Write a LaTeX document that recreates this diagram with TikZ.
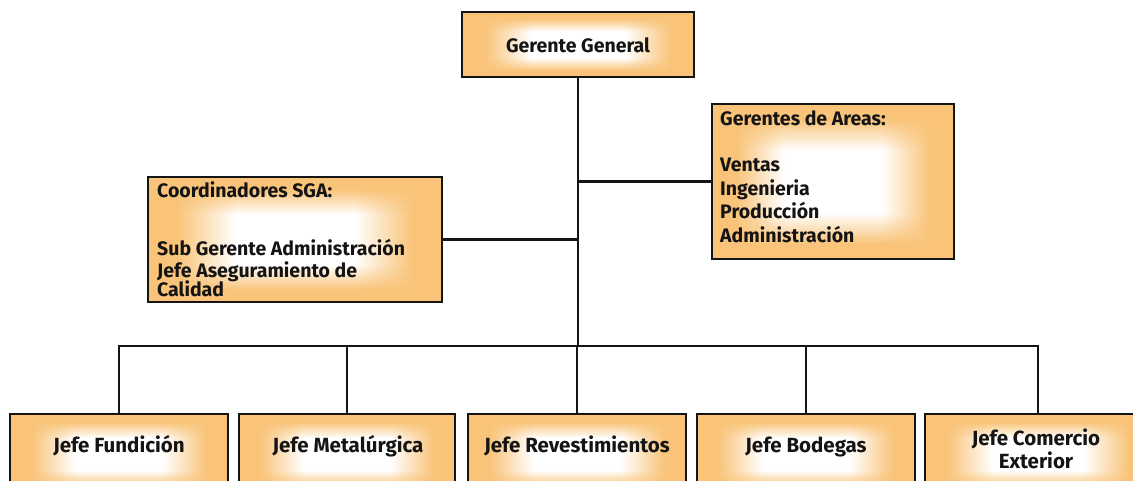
\documentclass[tikz,border=0pt]{standalone}
\usepackage{fontspec}
\setmainfont{Fira Sans}
\usetikzlibrary{positioning}

\definecolor{boxor}{RGB}{249,196,122}
\definecolor{ink}{RGB}{20,20,20}

% soft white glow in the middle of an orange box (the box maps to -25bp..25bp):
% white weight = wx*wy, each falling off linearly from 10bp to 20bp
\pgfdeclarefunctionalshading{glow}{\pgfpoint{-50bp}{-50bp}}{\pgfpoint{50bp}{50bp}}{}{
  abs 10 sub 10 div dup abs add 2 div dup 1 sub abs neg exch 1 add add 2 div
  1 exch sub
  exch
  abs 10 sub 10 div dup abs add 2 div dup 1 sub abs neg exch 1 add add 2 div
  1 exch sub
  mul 1 exch sub
  dup 0.024 mul 1 exch sub exch
  dup 0.231 mul 1 exch sub exch
  0.522 mul 1 exch sub
}

\tikzset{
  orgbox/.style={draw=ink, line width=2.6pt, shading=glow, inner sep=0pt},
  link/.style={draw=ink, line width=2.6pt},
  lbl/.style={inner sep=0pt, text=ink, font=\bfseries\fontsize{19.5}{23}\selectfont},
  lblb/.style={lbl, font=\bfseries\fontsize{20.5}{24}\selectfont},
}

\begin{document}
\begin{tikzpicture}[x=1pt,y=-1pt]
\useasboundingbox (0,0) rectangle (1133,481);

% boxes
\node[orgbox, minimum width=232pt, minimum height=65pt]  (gg)    at (578,44.5)  {};
\node[orgbox, minimum width=294pt, minimum height=125pt] (sga)   at (295,239.5) {};
\node[orgbox, minimum width=242pt, minimum height=155pt] (areas) at (833,181.5) {};
\node[orgbox, minimum width=218pt, minimum height=80pt] (b1) at (119,454) {};
\node[orgbox, minimum width=216pt, minimum height=80pt] (b2) at (347,454) {};
\node[orgbox, minimum width=218pt, minimum height=80pt] (b3) at (577,454) {};
\node[orgbox, minimum width=218pt, minimum height=80pt] (b4) at (806,454) {};
\node[orgbox, minimum width=226pt, minimum height=80pt] (b5) at (1038,454) {};

% connectors
\coordinate (bus) at (578,346);
\draw[link] (gg.south) -- (bus);
\draw[link] (areas.west) -- (areas.west -| gg.south);
\draw[link] (sga.east) -- (sga.east -| gg.south);
\draw[link] (b1.north) |- (bus) -| (b5.north);
\draw[link] (b2.north) -- (b2.north |- bus);
\draw[link] (b3.north) -- (b3.north |- bus);
\draw[link] (b4.north) -- (b4.north |- bus);

% texts
\node[lbl] (tgg) at (578,45) {Gerente General};

\node[lbl, anchor=base west] (tsga1) at (157,198) {Coordinadores SGA:};
\node[lbl, anchor=base west] (tsga2) at (157,256) {Sub Gerente Administración};
\node[lbl, anchor=base west] (tsga3) at (157,277) {Jefe Aseguramiento de};
\node[lbl, anchor=base west] (tsga4) at (157,297) {Calidad};

\node[lbl, anchor=base west] (tar1) at (720,126) {Gerentes de Areas:};
\node[lbl, anchor=base west] (tar2) at (720,172) {Ventas};
\node[lbl, anchor=base west] (tar3) at (720,195.5) {Ingenieria};
\node[lbl, anchor=base west] (tar4) at (720,219) {Producción};
\node[lbl, anchor=base west] (tar5) at (720,242.5) {Administración};

\node[lblb, anchor=base] (tb1) at (119,452) {Jefe Fundición};
\node[lblb, anchor=base] (tb2) at (348,452) {Jefe Metalúrgica};
\node[lblb, anchor=base] (tb3) at (577,452) {Jefe Revestimientos};
\node[lblb, anchor=base] (tb4) at (806,452) {Jefe Bodegas};
\node[lblb, anchor=base] (tb5a) at (1036,445) {Jefe Comercio};
\node[lblb, anchor=base] (tb5b) at (1036,468) {Exterior};
\end{tikzpicture}
\end{document}
